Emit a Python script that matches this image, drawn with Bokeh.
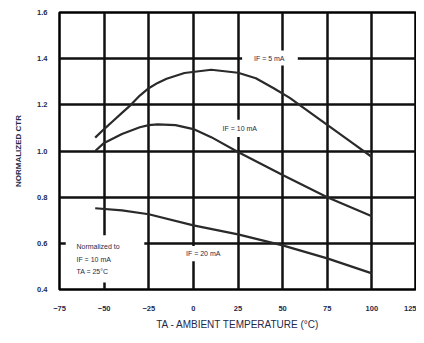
from bokeh.plotting import figure
from bokeh.models import Range1d, FixedTicker, Label, BoxAnnotation, CustomJSTickFormatter
from bokeh.embed import file_html
from bokeh.resources import INLINE

# Data
x_ticks = [-75, -50, -25, 0, 25, 50, 75, 100, 125]
y_ticks = [0.4, 0.6, 0.8, 1.0, 1.2, 1.4, 1.6]

t_5ma = [-55, -50, -45, -40, -35, -30, -25, -20, -15, -5, 10, 25, 35, 45, 54, 60, 75, 90, 100]
ctr_5ma = [1.058, 1.095, 1.13, 1.165, 1.20, 1.24, 1.272, 1.295, 1.313, 1.338, 1.352, 1.339, 1.315, 1.272, 1.23, 1.197, 1.113, 1.03, 0.974]

t_10ma = [-55, -50, -40, -30, -25, -20, -10, 0, 10, 25, 50, 75, 100]
ctr_10ma = [1.0, 1.035, 1.074, 1.103, 1.112, 1.115, 1.112, 1.095, 1.06, 0.996, 0.896, 0.80, 0.717]

t_20ma = [-55, -40, -25, 0, 25, 50, 75, 100]
ctr_20ma = [0.752, 0.743, 0.726, 0.678, 0.639, 0.591, 0.535, 0.47]

TXT = "#1f2a4a"
FONT = "Liberation Sans"

p = figure(width=416, height=335, output_backend="svg", toolbar_location=None,
           x_range=Range1d(-75, 125), y_range=Range1d(0.4, 1.6),
           min_border_left=59, min_border_right=0, min_border_top=12, min_border_bottom=46)

p.outline_line_color = "black"
p.outline_line_width = 2.5
p.background_fill_color = "white"

for g in (p.xgrid, p.ygrid):
    g.grid_line_color = "#111111"
    g.grid_line_width = 2.5
p.xgrid.ticker = FixedTicker(ticks=x_ticks)
p.ygrid.ticker = FixedTicker(ticks=y_ticks)

p.xaxis.ticker = FixedTicker(ticks=x_ticks)
p.yaxis.ticker = FixedTicker(ticks=y_ticks)
p.yaxis.formatter = CustomJSTickFormatter(code="return tick.toFixed(1);")
for ax in (p.xaxis, p.yaxis):
    ax.axis_line_color = None
    ax.major_tick_line_color = None
    ax.minor_tick_line_color = None
    ax.major_label_text_font = FONT
    ax.major_label_text_font_size = "7.5px"
    ax.major_label_text_font_style = "bold"
    ax.major_label_text_color = TXT
    ax.axis_label_text_font = FONT
    ax.axis_label_text_color = TXT
p.xaxis.major_label_standoff = 10
p.yaxis.major_label_standoff = 6

p.xaxis.axis_label = "TA - AMBIENT TEMPERATURE (°C)"
p.xaxis.axis_label_text_font_size = "10px"
p.xaxis.axis_label_text_font_style = "normal"
p.xaxis.axis_label_standoff = 5
p.yaxis.axis_label = "NORMALIZED CTR"
p.yaxis.axis_label_text_font_size = "8px"
p.yaxis.axis_label_text_font_style = "bold"
p.yaxis.axis_label_standoff = 11

# White boxes that interrupt the grid behind labels
boxes = [(27.3, 58.5, 1.37, 1.435), (10.6, 41.8, 1.061, 1.135),
         (-9.5, 20.6, 0.522, 0.588), (-71.5, -27.5, 0.43, 0.635)]
for l, r, b, t in boxes:
    p.add_layout(BoxAnnotation(left=l, right=r, bottom=b, top=t, fill_color="white",
                               fill_alpha=1.0, line_color=None, level="underlay"))

for xs, ys in ((t_5ma, ctr_5ma), (t_10ma, ctr_10ma), (t_20ma, ctr_20ma)):
    p.line(xs, ys, line_color="#2a2a2a", line_width=2.2)

def lab(x, y, s, align="center"):
    p.add_layout(Label(x=x, y=y, text=s, text_font=FONT, text_font_size="7px",
                       text_color=TXT, text_align=align, text_baseline="middle"))

lab(42.5, 1.4, "IF = 5 mA")
lab(26.0, 1.098, "IF = 10 mA")
lab(5.5, 0.556, "IF = 20 mA")
lab(-65.5, 0.585, "Normalized to", "left")
lab(-65.5, 0.528, "IF = 10 mA", "left")
lab(-65.5, 0.48, "TA = 25°C", "left")

open("out.html", "w").write(file_html(p, INLINE))
